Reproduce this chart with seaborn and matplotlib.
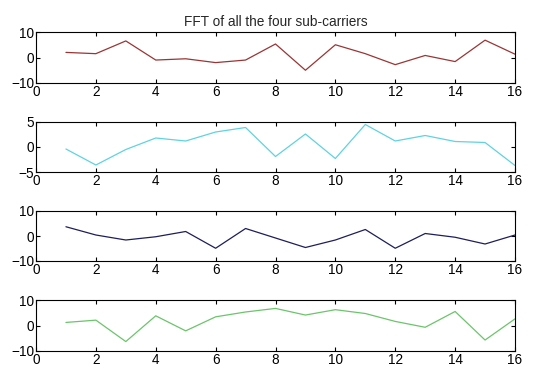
import matplotlib
matplotlib.use("Agg")
import matplotlib.pyplot as plt
import seaborn as sns
import numpy as np
import pandas as pd

sns.set_style("ticks")
plt.rcParams['font.family'] = ['Liberation Sans', 'DejaVu Sans']

x = list(range(1, 17))
carrier1 = [2, 1.5, 6.5, -1, -0.5, -2, -1, 5.3, -5, 5, 1.5, -2.8, 0.8, -1.6, 6.8, 1.3]
carrier2 = [-0.4, -3.6, -0.5, 1.8, 1.2, 3, 3.9, -1.9, 2.6, -2.3, 4.5, 1.2, 2.3, 1.1, 0.9, -3.7]
carrier3 = [3.7, 0.4, -1.6, -0.3, 1.8, -4.9, 3, -0.8, -4.6, -1.6, 2.6, -4.9, 1, -0.5, -3.2, 0.4]
carrier4 = [1.2, 2.1, -6.3, 3.8, -2.1, 3.4, 5.3, 6.7, 4.1, 6.2, 4.7, 1.6, -0.7, 5.5, -5.7, 2.6]

series = [carrier1, carrier2, carrier3, carrier4]
colors = ["#9a3535", "#5fd3e0", "#1e1e5a", "#6cc46c"]
ylims = [(-10, 10), (-5, 5), (-10, 10), (-10, 10)]
yticks = [[-10, 0, 10], [-5, 0, 5], [-10, 0, 10], [-10, 0, 10]]
xticks = list(range(0, 17, 2))
title = "FFT of all the four sub-carriers"

W, H = 535, 368
fig = plt.figure(figsize=(W / 100, H / 100), dpi=100)
tops = [32, 122, 211, 300]
bottoms = [83, 172, 261, 351]
left, right = 36, 515

for i, (vals, c) in enumerate(zip(series, colors)):
    ax = fig.add_axes([left / W, 1 - bottoms[i] / H, (right - left) / W, (bottoms[i] - tops[i]) / H])
    df = pd.DataFrame({"x": x, "y": vals})
    sns.lineplot(data=df, x="x", y="y", ax=ax, color=c, linewidth=0.9)
    ax.set_xlim(0, 16)
    ax.set_ylim(*ylims[i])
    ax.set_xticks(xticks)
    ax.set_yticks(yticks[i])
    ax.set_xlabel("")
    ax.set_ylabel("")
    ax.tick_params(direction="in", top=True, right=True, length=3, width=0.8,
                   labelsize=9.8, pad=1.5, colors="black")
    for s in ax.spines.values():
        s.set_linewidth(0.8)
        s.set_color("black")
    if i == 0:
        ax.set_title(title, fontsize=9.8, pad=4)

fig.savefig("out.png", dpi=100)
